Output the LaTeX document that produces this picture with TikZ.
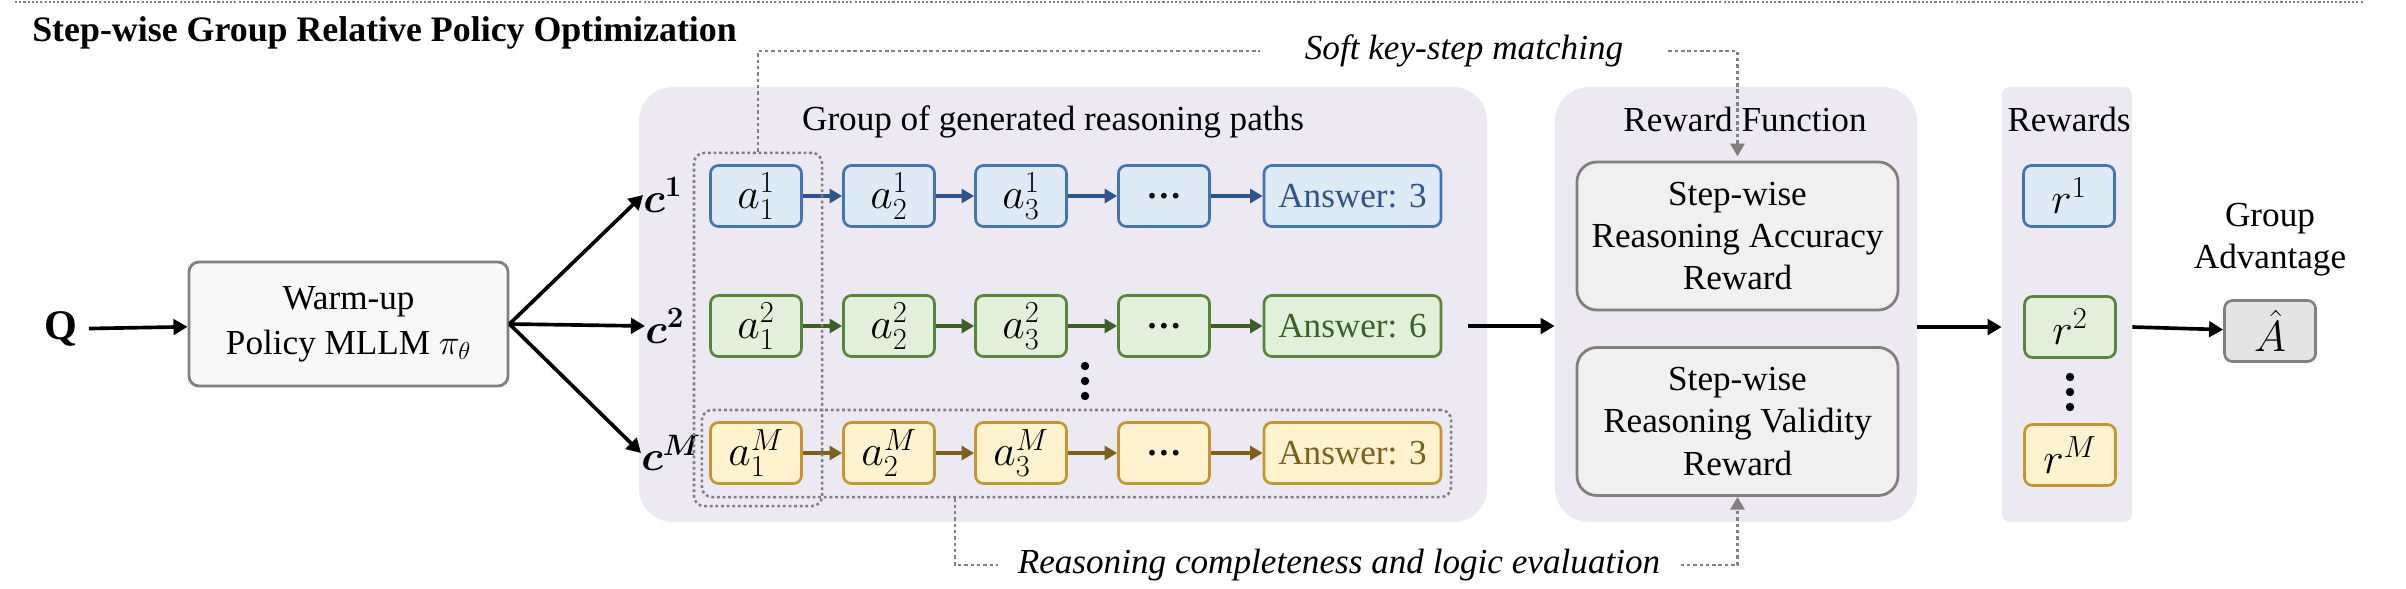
\documentclass[tikz,border=0pt]{standalone}
\usepackage{fix-cm}
\usepackage{amsmath}
\usepackage{bm}
\usepackage{fontspec}
\setmainfont{Liberation Serif}
\usetikzlibrary{arrows.meta, positioning, calc}

\definecolor{panelbg}{RGB}{237,233,243}
\definecolor{blufill}{RGB}{222,234,246}
\definecolor{bluline}{RGB}{68,114,180}
\definecolor{bludark}{RGB}{47,84,140}
\definecolor{grnfill}{RGB}{226,239,218}
\definecolor{grnline}{RGB}{88,133,60}
\definecolor{grndark}{RGB}{60,95,40}
\definecolor{yelfill}{RGB}{255,242,206}
\definecolor{yelline}{RGB}{194,150,50}
\definecolor{yeldark}{RGB}{125,95,30}
\definecolor{gryline}{RGB}{128,128,128}
\definecolor{warmfill}{RGB}{248,248,248}
\definecolor{rfill}{RGB}{240,240,240}
\definecolor{advfill}{RGB}{228,228,228}

\begin{document}
\begin{tikzpicture}[x=0.025cm, y=-0.025cm,
  txt/.style={inner sep=0pt, font=\fontsize{25}{30}\selectfont},
  panel/.style={fill=panelbg, rounded corners=0.85cm, inner sep=0pt},
  pbox/.style={rounded corners=0.2cm, line width=1.9pt, minimum width=2.275cm, minimum height=1.525cm, inner sep=0pt, font=\fontsize{31}{32}\selectfont},
  wordfont/.style={font=\fontsize{25}{30}\selectfont},
  ans/.style={wordfont, minimum width=4.425cm},
  bluebox/.style={pbox, draw=bluline, fill=blufill},
  grnbox/.style={pbox, draw=grnline, fill=grnfill},
  yelbox/.style={pbox, draw=yelline, fill=yelfill},
  arr/.style={line width=2.6pt, -{Triangle[length=10pt,width=11pt]}},
  bluearr/.style={line width=2.6pt, draw=bludark, -{Triangle[length=9pt,width=10pt]}},
  grnarr/.style={line width=2.6pt, draw=grndark, -{Triangle[length=9pt,width=10pt]}},
  yelarr/.style={line width=2.6pt, draw=yeldark, -{Triangle[length=9pt,width=10pt]}},
  dotbox/.style={draw=gryline, line width=1.8pt, dash pattern=on 2pt off 2pt, rounded corners=0.25cm, inner sep=0pt},
  gline/.style={draw=gryline, line width=1.8pt, dash pattern=on 2.5pt off 2pt},
  garr/.style={gline, -{Triangle[length=9pt,width=10pt]}},
  rbox/.style={draw=gryline, fill=rfill, line width=2pt, rounded corners=0.5cm, minimum width=8.025cm, minimum height=3.7cm, align=center, font=\fontsize{25}{30}\selectfont}]

\useasboundingbox (0,0) rectangle (2406,588);

% Title and top rule
\draw[draw=gryline, line width=0.8pt, dash pattern=on 1.5pt off 1.5pt] (15,2) -- (2363,2);
\node[txt, anchor=base west, font=\fontsize{25.5}{30}\selectfont\bfseries] (title) at (32,41) {Step-wise Group Relative Policy Optimization};

% Background panels
\node[panel, minimum width=21.2cm, minimum height=10.875cm] (grp) at (1063,304.5) {};
\node[panel, minimum width=9.05cm, minimum height=10.875cm] (rwd) at (1736,304.5) {};
\node[panel, rounded corners=0.2cm, minimum width=3.25cm, minimum height=10.875cm] (rws) at (2067,304.5) {};
\node[txt, anchor=base] (grptitle) at (1053,130) {Group of generated reasoning paths};
\node[txt, anchor=base] (rwdtitle) at (1745,131) {Reward Function};
\node[txt, anchor=base] (rwstitle) at (2069,131) {Rewards};

% Question and policy model
\node[inner sep=0pt, font=\fontsize{30}{30}\selectfont\bfseries] (Q) at (61,329) {Q};
\node[draw=gryline, fill=warmfill, line width=2pt, rounded corners=0.25cm, minimum width=7.975cm, minimum height=3.1cm, align=center, font=\fontsize{25}{32}\selectfont] (warm) at (348.5,324) {Warm-up\\Policy MLLM $\pi_\theta$};
\draw[arr, shorten <=8pt] (Q) -- (warm);

\node[inner sep=0pt, anchor=west, font=\fontsize{30}{30}\selectfont] (c1) at (643,195) {$\bm{c}^{\bm{1}}$};
\node[inner sep=0pt, anchor=west, font=\fontsize{30}{30}\selectfont] (c2) at (645,326) {$\bm{c}^{\bm{2}}$};
\node[inner sep=0pt, anchor=west, font=\fontsize{30}{30}\selectfont] (cM) at (641,453) {$\bm{c}^{\bm{M}}$};
\draw[arr] (warm.east) -- (c1.west);
\draw[arr] (warm.east) -- (c2.west);
\draw[arr] (warm.east) -- (cM.west);

% Reasoning path 1
\node[bluebox] (a11) at (756,196) {$a_1^1$};
\node[bluebox] (a12) at (889,196) {$a_2^1$};
\node[bluebox] (a13) at (1021,196) {$a_3^1$};
\node[bluebox, wordfont] (a14) at (1164,196) {\textbf{\textellipsis}};
\node[bluebox, ans, text=bludark] (a15) at (1352.5,196) {Answer: 3};
\draw[bluearr] (a11) -- (a12);
\draw[bluearr] (a12) -- (a13);
\draw[bluearr] (a13) -- (a14);
\draw[bluearr] (a14) -- (a15);

% Reasoning path 2
\node[grnbox] (a21) at (756,326) {$a_1^2$};
\node[grnbox] (a22) at (889,326) {$a_2^2$};
\node[grnbox] (a23) at (1021,326) {$a_3^2$};
\node[grnbox, wordfont] (a24) at (1164,326) {\textbf{\textellipsis}};
\node[grnbox, ans, text=grndark] (a25) at (1352.5,326) {Answer: 6};
\draw[grnarr] (a21) -- (a22);
\draw[grnarr] (a22) -- (a23);
\draw[grnarr] (a23) -- (a24);
\draw[grnarr] (a24) -- (a25);

% Reasoning path M
\node[yelbox] (aM1) at (756,453) {$a_1^M$};
\node[yelbox] (aM2) at (889,453) {$a_2^M$};
\node[yelbox] (aM3) at (1021,453) {$a_3^M$};
\node[yelbox, wordfont] (aM4) at (1164,453) {\textbf{\textellipsis}};
\node[yelbox, ans, text=yeldark] (aM5) at (1352.5,453) {Answer: 3};
\draw[yelarr] (aM1) -- (aM2);
\draw[yelarr] (aM2) -- (aM3);
\draw[yelarr] (aM3) -- (aM4);
\draw[yelarr] (aM4) -- (aM5);

\fill (1085,366) circle (3pt);
\fill (1085,381) circle (3pt);
\fill (1085,396) circle (3pt);

% Dotted groupings
\node[dotbox, minimum width=3.2cm, minimum height=8.825cm] (colbox) at (758,329.5) {};
\node[dotbox, minimum width=18.725cm, minimum height=2.175cm] (rowbox) at (1076.5,453.5) {};

% Reward function
\node[rbox] (acc) at (1737.5,236) {Step-wise\\Reasoning Accuracy\\Reward};
\node[rbox] (val) at (1737.5,421.5) {Step-wise\\Reasoning Validity\\Reward};
\draw[arr] ([xshift=0.65cm]a25.east) -- (rwd.west |- a25);

% Rewards and advantage
\node[bluebox] (r1) at (2069,196) {$r^1$};
\node[grnbox] (r2) at (2070,327) {$r^2$};
\node[yelbox] (rM) at (2070,455) {$r^M$};
\fill (2070,377) circle (3pt);
\fill (2070,392) circle (3pt);
\fill (2070,407) circle (3pt);
\node[pbox, draw=gryline, fill=advfill] (adv) at (2270,331) {$\hat{A}$};
\node[txt, align=center] (advlbl) at (2270,240) {Group\\Advantage};
\draw[arr] (rwd.east |- r2) -- (rws.west |- r2);
\draw[arr] (rws.east |- r2) -- (adv);

% Soft key-step matching
\node[txt, inner xsep=1.125cm, font=\fontsize{25}{30}\selectfont\itshape] (soft) at (1464,51) {Soft key-step matching};
\draw[gline] (colbox.north) |- (soft.west);
\draw[garr, shorten >=3pt] (soft.east) -| (acc.north);

% Reasoning completeness and logic evaluation
\coordinate (mid) at ($(aM2)!0.5!(aM3)$);
\node[txt, inner xsep=0.5cm, font=\fontsize{25}{30}\selectfont\itshape] (evaltxt) at (1339,565) {Reasoning completeness and logic evaluation};
\draw[gline] (mid |- rowbox.south) |- (evaltxt.west);
\draw[garr] (evaltxt.east) -| (val.south);

\end{tikzpicture}
\end{document}
